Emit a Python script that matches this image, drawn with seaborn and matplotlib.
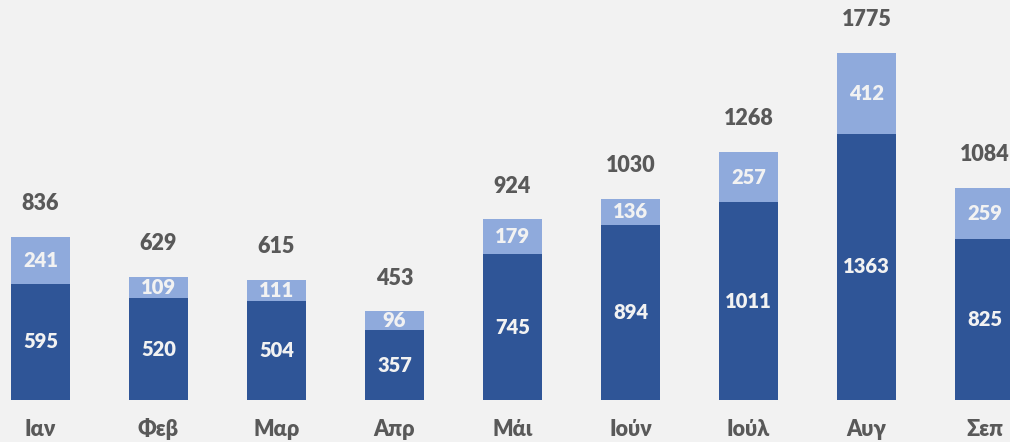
import matplotlib
matplotlib.use("Agg")
import matplotlib.pyplot as plt
import seaborn as sns
import pandas as pd

months = ["Ιαν", "Φεβ", "Μαρ", "Απρ", "Μάι", "Ιούν", "Ιούλ", "Αυγ", "Σεπ"]
bottom_vals = [595, 520, 504, 357, 745, 894, 1011, 1363, 825]
top_vals = [241, 109, 111, 96, 179, 136, 257, 412, 259]
totals = [b + t for b, t in zip(bottom_vals, top_vals)]

dark = "#2F5597"
light = "#8FAADC"
bg = "#F2F2F2"
grey = "#595959"

sns.set_theme(style="white")
plt.rcParams["font.family"] = ["Lato", "DejaVu Sans"]

df = pd.DataFrame({"month": months, "bottom": bottom_vals, "top": top_vals, "total": totals})

fig = plt.figure(figsize=(10.1, 4.42), dpi=100)
fig.patch.set_facecolor(bg)
ax = fig.add_axes([0, 42 / 442, 1, 400 / 442])
ax.set_facecolor(bg)

sns.barplot(data=df, x="month", y="total", color=light, width=0.5, saturation=1,
            linewidth=0, ax=ax)
sns.barplot(data=df, x="month", y="bottom", color=dark, width=0.5, saturation=1,
            linewidth=0, ax=ax)

# pixel mapping: first bar centre at 40.5px, step 118px
ax.set_xlim(-40.5 / 118, (1010 - 40.5) / 118)
ax.set_ylim(0, 400 / 0.1955)
ax.axis("off")

for i, row in df.iterrows():
    ax.text(i, row["bottom"] / 2, str(row["bottom"]), ha="center", va="center",
            color=bg, fontsize=14.5, fontweight="heavy")
    ax.text(i, row["bottom"] + row["top"] / 2, str(row["top"]), ha="center", va="center",
            color=bg, fontsize=14.5, fontweight="heavy")
    ax.text(i, row["total"] + 170, str(row["total"]), ha="center", va="center",
            color=grey, fontsize=15.5, fontweight="heavy")
    ax.text(i, -150, row["month"], ha="center", va="center",
            color=grey, fontsize=15.5, fontweight="heavy", clip_on=False)

fig.savefig("out.png", dpi=100, facecolor=bg)
